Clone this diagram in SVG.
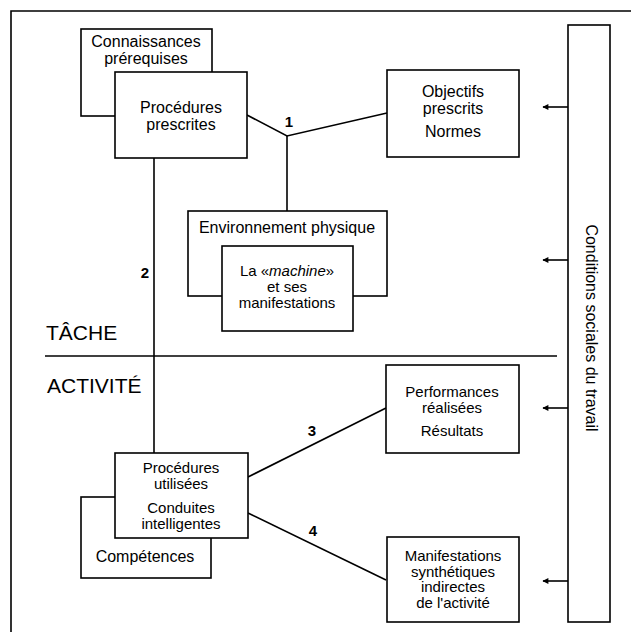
<svg xmlns="http://www.w3.org/2000/svg" width="631" height="635" viewBox="0 0 631 635">
<defs>
<style>
.box{fill:#fff;stroke:#000;stroke-width:1.6}
.ln{fill:none;stroke:#000;stroke-width:1.6}
text{font-family:"Liberation Sans",Arial,sans-serif;font-size:16px;fill:#000}
.c{text-anchor:middle}
.s{font-size:15px}
.big{font-size:21px}
.num{font-size:15px;font-weight:bold}
</style>
<marker id="ah" viewBox="0 0 10 10" refX="9" refY="5" markerWidth="9" markerHeight="6" markerUnits="userSpaceOnUse" orient="auto">
<path d="M0,0 L10,5 L0,10 Z" fill="#000"/>
</marker>
</defs>
<rect width="631" height="635" fill="#fff"/>
<path class="ln" d="M631,11 H11 V632"/>

<g id="connectors">
<path class="ln" d="M247,115 L287,136 L387,113"/>
<path class="ln" d="M287,136 V211"/>
<path class="ln" d="M154,158 V453"/>
<path class="ln" d="M45,356 H557"/>
<path class="ln" d="M248,477 L386,408"/>
<path class="ln" d="M248,513 L386,580"/>
<path class="ln" d="M568,107 H543" marker-end="url(#ah)"/>
<path class="ln" d="M568,260 H543" marker-end="url(#ah)"/>
<path class="ln" d="M568,408 H543" marker-end="url(#ah)"/>
<path class="ln" d="M568,581 H543" marker-end="url(#ah)"/>
<text class="num c" x="289" y="127">1</text>
<text class="num c" x="145" y="278">2</text>
<text class="num c" x="312" y="436">3</text>
<text class="num c" x="313" y="536">4</text>
</g>

<g id="connaissances">
<rect class="box" x="81" y="29" width="131" height="87"/>
<text class="c" x="146" y="47">Connaissances</text>
<text class="c" x="146" y="64">prérequises</text>
</g>
<g id="procedures-prescrites">
<rect class="box" x="115" y="72" width="132" height="86"/>
<text class="c" x="181" y="113">Procédures</text>
<text class="c" x="181" y="130">prescrites</text>
</g>
<g id="objectifs">
<rect class="box" x="387" y="70" width="132" height="87"/>
<text class="c" x="453" y="97">Objectifs</text>
<text class="c" x="453" y="114">prescrits</text>
<text class="c" x="453" y="137">Normes</text>
</g>
<g id="environnement">
<rect class="box" x="188" y="211" width="199" height="85"/>
<text class="c" x="287" y="233">Environnement physique</text>
</g>
<g id="machine">
<rect class="box" x="222" y="246" width="131" height="85"/>
<text class="c s" x="287" y="276">La «<tspan font-style="italic">machine</tspan>»</text>
<text class="c s" x="287" y="292">et ses</text>
<text class="c s" x="287" y="308">manifestations</text>
</g>
<g id="tache"><text class="big" x="46" y="340">TÂCHE</text></g>
<g id="activite"><text class="big" x="47" y="393">ACTIVITÉ</text></g>
<g id="competences">
<rect class="box" x="81" y="497" width="130" height="81"/>
<text class="c" x="145" y="562">Compétences</text>
</g>
<g id="procedures-utilisees">
<rect class="box" x="115" y="453" width="133" height="85"/>
<text class="c s" x="181" y="473">Procédures</text>
<text class="c s" x="181" y="489">utilisées</text>
<text class="c s" x="181" y="513">Conduites</text>
<text class="c s" x="181" y="529">intelligentes</text>
</g>
<g id="performances">
<rect class="box" x="386" y="365" width="133" height="88"/>
<text class="c s" x="452" y="397">Performances</text>
<text class="c s" x="452" y="413">réalisées</text>
<text class="c s" x="452" y="436">Résultats</text>
</g>
<g id="manifestations">
<rect class="box" x="387" y="537" width="132" height="85"/>
<text class="c s" x="453" y="561">Manifestations</text>
<text class="c s" x="453" y="576.5">synthétiques</text>
<text class="c s" x="453" y="592">indirectes</text>
<text class="c s" x="453" y="607.5">de l'activité</text>
</g>
<g id="conditions">
<rect class="box" x="568" y="25" width="42" height="597"/>
<text class="c" transform="translate(586,328) rotate(90)">Conditions sociales du travail</text>
</g>
</svg>
